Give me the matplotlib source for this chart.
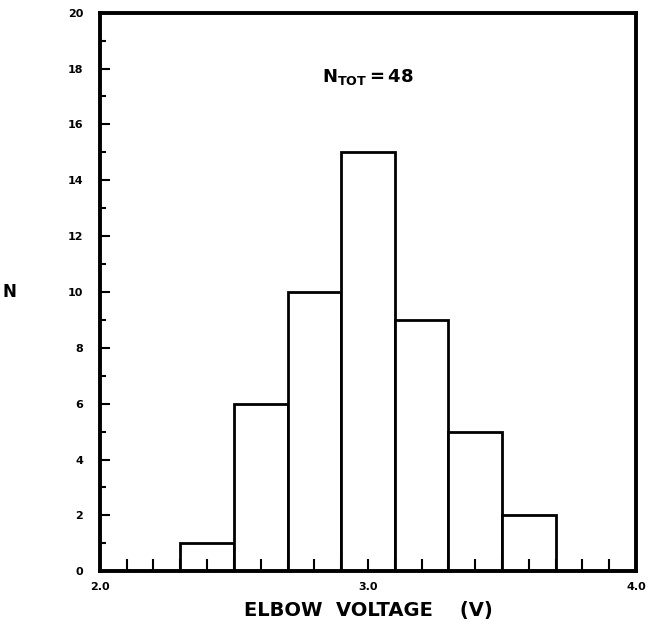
import matplotlib.pyplot as plt
import numpy as np
from matplotlib.ticker import MultipleLocator

# histogram of elbow voltages
bin_edges = [2.3, 2.5, 2.7, 2.9, 3.1, 3.3, 3.5, 3.7]
counts = [1, 6, 10, 15, 9, 5, 2]
n_tot = 48

x_ticks = [2.0, 3.0, 4.0]
x_ticklabels = ["2.0", "3.0", "4.0"]
y_ticks = [0, 2, 4, 6, 8, 10, 12, 14, 16, 18, 20]

fig = plt.figure(figsize=(6.57, 6.34), dpi=100)
ax = fig.add_axes([0.152, 0.099, 0.816, 0.881])

lefts = np.array(bin_edges[:-1])
widths = np.diff(bin_edges)
ax.bar(lefts, counts, width=widths, align='edge', facecolor='white',
       edgecolor='black', lw=2)

ax.set_xlim(2.0, 4.0)
ax.set_ylim(0, 20)
ax.set_xticks(x_ticks)
ax.set_xticklabels(x_ticklabels)
ax.xaxis.set_minor_locator(MultipleLocator(0.1))
ax.set_yticks(y_ticks)
ax.yaxis.set_minor_locator(MultipleLocator(1))

ax.tick_params(axis='both', which='both', direction='in', width=1.5,
               labelsize=8)
ax.tick_params(axis='x', which='major', length=9, pad=8)
ax.tick_params(axis='x', which='minor', length=9)
ax.tick_params(axis='y', which='major', length=7, pad=12)
ax.tick_params(axis='y', which='minor', length=4)
for lab in ax.get_xticklabels() + ax.get_yticklabels():
    lab.set_fontweight('bold')

for s in ax.spines.values():
    s.set_linewidth(2.8)

ax.set_xlabel("ELBOW  VOLTAGE    (V)", fontsize=14, fontweight='bold',
              labelpad=6)
ax.set_ylabel("N", fontsize=12, fontweight='bold', rotation=0, labelpad=42,
              va='center')

ax.text(3.0, 17.7, r"$\mathbf{N_{TOT}}$$\mathbf{=48}$", fontsize=13,
        ha='center', va='center')

fig.savefig("out.png", dpi=100)
